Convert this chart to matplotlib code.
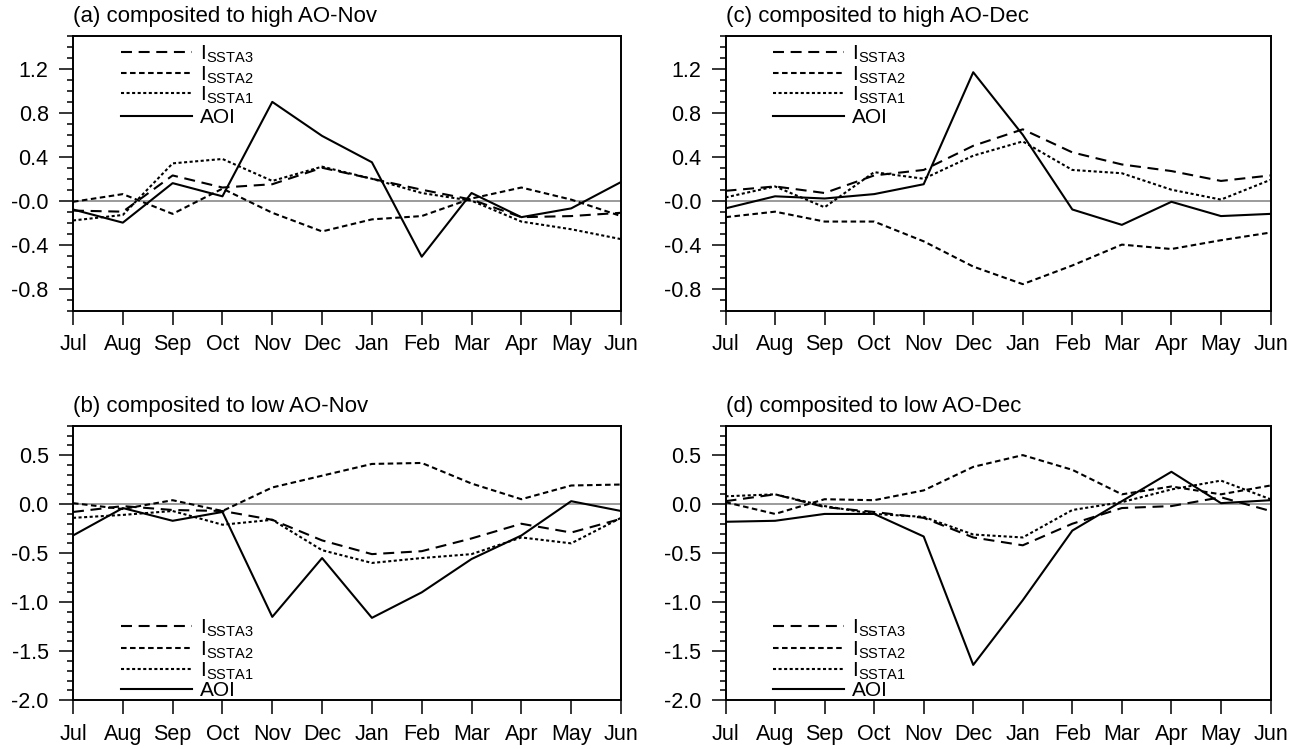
import numpy as np
import matplotlib
matplotlib.use('Agg')
import matplotlib.pyplot as plt
from matplotlib.ticker import FixedLocator, MultipleLocator

plt.rcParams['font.family'] = ['Liberation Sans', 'DejaVu Sans']
plt.rcParams['mathtext.fontset'] = 'custom'
plt.rcParams['mathtext.rm'] = 'Liberation Sans'
plt.rcParams['lines.scale_dashes'] = False

months = ['Jul', 'Aug', 'Sep', 'Oct', 'Nov', 'Dec',
          'Jan', 'Feb', 'Mar', 'Apr', 'May', 'Jun']

# (a) composited to high AO-Nov
a_ssta3 = [-0.09, -0.10, 0.23, 0.12, 0.15, 0.30, 0.20, 0.10, 0.01, -0.15, -0.14, -0.11]
a_ssta2 = [-0.01, 0.06, -0.12, 0.11, -0.11, -0.28, -0.17, -0.14, 0.02, 0.12, 0.01, -0.14]
a_ssta1 = [-0.18, -0.13, 0.34, 0.38, 0.18, 0.31, 0.20, 0.07, 0.00, -0.19, -0.26, -0.35]
a_aoi = [-0.08, -0.20, 0.16, 0.04, 0.90, 0.59, 0.35, -0.51, 0.07, -0.15, -0.07, 0.17]

# (b) composited to low AO-Nov
b_ssta3 = [-0.08, -0.02, -0.06, -0.07, -0.16, -0.37, -0.51, -0.48, -0.35, -0.20, -0.29, -0.15]
b_ssta2 = [0.01, -0.05, 0.04, -0.07, 0.17, 0.29, 0.41, 0.42, 0.21, 0.05, 0.19, 0.20]
b_ssta1 = [-0.14, -0.11, -0.07, -0.21, -0.16, -0.47, -0.60, -0.55, -0.51, -0.34, -0.40, -0.14]
b_aoi = [-0.32, -0.04, -0.17, -0.08, -1.15, -0.55, -1.16, -0.90, -0.56, -0.32, 0.03, -0.07]

# (c) composited to high AO-Dec
c_ssta3 = [0.09, 0.13, 0.07, 0.23, 0.28, 0.50, 0.65, 0.44, 0.33, 0.27, 0.18, 0.23]
c_ssta2 = [-0.15, -0.10, -0.19, -0.19, -0.37, -0.60, -0.76, -0.59, -0.40, -0.44, -0.36, -0.29]
c_ssta1 = [0.03, 0.13, -0.06, 0.26, 0.20, 0.41, 0.54, 0.28, 0.25, 0.10, 0.01, 0.19]
c_aoi = [-0.07, 0.04, 0.02, 0.06, 0.15, 1.17, 0.60, -0.08, -0.22, -0.01, -0.14, -0.12]

# (d) composited to low AO-Dec
d_ssta3 = [0.03, 0.10, -0.03, -0.08, -0.14, -0.34, -0.42, -0.20, -0.04, -0.02, 0.07, -0.07]
d_ssta2 = [0.02, -0.10, 0.05, 0.04, 0.14, 0.38, 0.50, 0.35, 0.10, 0.18, 0.10, 0.19]
d_ssta1 = [0.08, 0.10, -0.02, -0.10, -0.13, -0.31, -0.34, -0.06, 0.02, 0.15, 0.24, 0.05]
d_aoi = [-0.18, -0.17, -0.10, -0.10, -0.33, -1.64, -0.98, -0.27, 0.03, 0.33, 0.01, 0.04]

high_yticks = [1.2, 0.8, 0.4, 0.0, -0.4, -0.8]
high_ylabels = ['1.2', '0.8', '0.4', '-0.0', '-0.4', '-0.8']
low_yticks = [0.5, 0.0, -0.5, -1.0, -1.5, -2.0]
low_ylabels = ['0.5', '0.0', '-0.5', '-1.0', '-1.5', '-2.0']

labels = [r'I$_{\mathrm{SSTA3}}$', r'I$_{\mathrm{SSTA2}}$', r'I$_{\mathrm{SSTA1}}$', 'AOI']
dashes = [(7.9, 4.8), (4.0, 2.5), (2.2, 1.8), None]

W, H = 1304, 749
fig = plt.figure(figsize=(W / 100, H / 100), dpi=100)

panels = [
    ('(a) composited to high AO-Nov', [a_ssta3, a_ssta2, a_ssta1, a_aoi], 'high', [73, 36]),
    ('(b) composited to low AO-Nov', [b_ssta3, b_ssta2, b_ssta1, b_aoi], 'low', [73, 425.7]),
    ('(c) composited to high AO-Dec', [c_ssta3, c_ssta2, c_ssta1, c_aoi], 'high', [725.5, 36]),
    ('(d) composited to low AO-Dec', [d_ssta3, d_ssta2, d_ssta1, d_aoi], 'low', [725.5, 425.7]),
]

leg_kw = dict(frameon=False, fontsize=15, handlelength=3.4,
              handletextpad=0.4, borderpad=0, borderaxespad=0)

x = np.arange(len(months))
for title, series, kind, (px, py) in panels:
    aw = 548 if px < 300 else 545
    ah = 274.5
    ax = fig.add_axes([px / W, 1 - (py + ah) / H, aw / W, ah / H])

    ax.axhline(0, color='#808080', lw=1.1, zorder=1)
    handles = []
    for vals, d in zip(series, dashes):
        ln, = ax.plot(x, vals, color='black', lw=1.5, zorder=3)
        if d is not None:
            ln.set_dashes(d)
        handles.append(ln)

    ax.set_xlim(0, 11)
    ax.set_xticks(x)
    ax.set_xticklabels(months, fontsize=15.5)
    if kind == 'high':
        ax.set_ylim(-1.0, 1.5)
        ax.yaxis.set_major_locator(FixedLocator(high_yticks))
        ax.set_yticklabels(high_ylabels)
        top3, aoi_y, lsp = 0.972, 0.703, -0.06
    else:
        ax.set_ylim(-2.0, 0.8)
        ax.yaxis.set_major_locator(FixedLocator(low_yticks))
        ax.set_yticklabels(low_ylabels)
        top3, aoi_y, lsp = 0.3015, 0.035, 0.0
    ax.yaxis.set_minor_locator(MultipleLocator(0.1))

    for s in ax.spines.values():
        s.set_linewidth(1.4)
    ax.tick_params(axis='both', which='major', direction='out', length=10,
                   width=1.1, top=False, right=False)
    ax.tick_params(axis='y', which='major', labelsize=15.5, pad=7.5)
    ax.tick_params(axis='y', which='minor', direction='out', length=4.5, width=1.1)
    ax.tick_params(axis='x', which='major', pad=7)

    ax.text(0, 1 + 14 / ah, title, transform=ax.transAxes, ha='left',
            va='baseline', fontsize=16)

    leg = ax.legend(handles[:3], labels[:3], loc='upper left',
                    bbox_to_anchor=(0.0876, top3), labelspacing=lsp, **leg_kw)
    ax.add_artist(leg)
    ax.legend(handles[3:], labels[3:], loc='center left',
              bbox_to_anchor=(0.0876, aoi_y), **leg_kw)

fig.savefig('out.png', dpi=100)
